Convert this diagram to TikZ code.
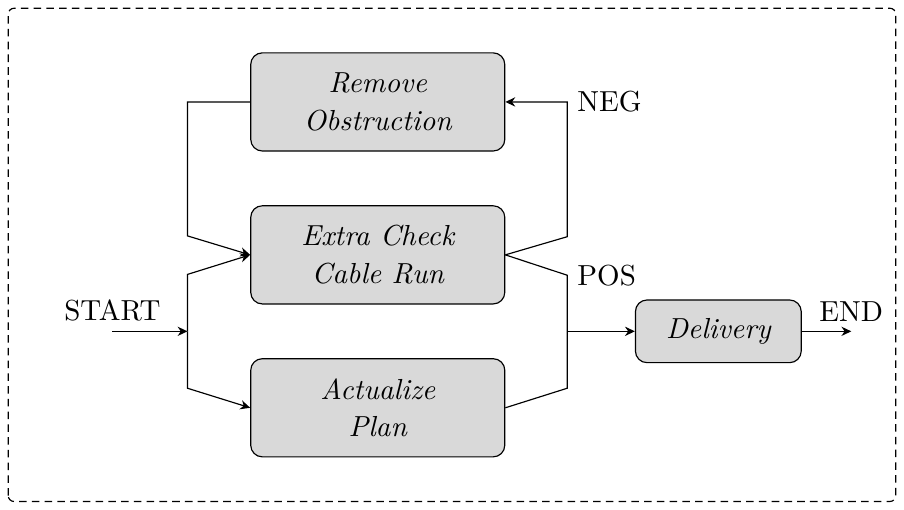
\documentclass[tikz,border=0pt]{standalone}
\usetikzlibrary{arrows.meta,calc,positioning}

\begin{document}
\begin{tikzpicture}[node distance= 0.65cm, >={Stealth[length=3.4pt,width=3.2pt]}]
      \useasboundingbox (-4.58,-3.09) rectangle (6.38,3.09);
      \draw[dash pattern=on 2.6pt off 1.8pt, rounded corners=2pt] (-4.48,-2.99) rectangle (6.28,2.99);
      \begin{scope}[every node/.style={draw,rounded corners,fill=black!15,font=\itshape,align=center,minimum width=3.08cm,minimum height=1.19cm}]
        \node (extra) {Extra Check\\[1pt]Cable Run};
        \node (remove) [above= of extra] {Remove\\[1pt]Obstruction};
        \node (plan) [below= of extra] {Actualize\\[1pt]Plan};
      \end{scope}
      % junction points
      \coordinate (jl) at ([xshift=-0.76cm]extra.west);
      \coordinate (jr) at ([xshift=0.75cm]extra.east);
      \coordinate (split) at ([xshift=-0.76cm]$(extra.west)!0.5!(plan.west)$);
      \coordinate (merge) at ([xshift=0.75cm]$(extra.east)!0.5!(plan.east)$);
      \coordinate (start) at ([xshift=-0.91cm]split);
      \node (delivery) [draw,rounded corners,fill=black!15,font=\itshape,minimum width=2.01cm,minimum height=0.76cm,right= 0.82cm of merge] {Delivery};
      \coordinate (finish) at ([xshift=0.6cm]delivery.east);
      % labels
      \node (startlabel) [above] at (start) {START};
      \node (endlabel) [above] at (finish) {END};
      \node (neglabel) [right] at (jr |- remove.east) {NEG};
      \node (poslabel) [right] at ([yshift=0.68cm]merge) {POS};
      \begin{scope}[every path/.style={draw= black}]
        \draw[->] (start) -- (split);
        \draw[->] (split) -- ++(0,0.69) -- (extra.west);
        \draw[->] (split) -- ++(0,-0.69) -- (plan.west);
        \draw[->] (remove.west) -| ([yshift=0.23cm]jl) -- (extra.west);
        \draw[->] (extra.east) -- ([yshift=0.22cm]jr) |- (remove.east);
        \draw (extra.east) -- ([yshift=0.68cm]merge) -- ([yshift=-0.69cm]merge) -- (plan.east);
        \draw[->] (merge) -- (delivery);
        \draw[->] (delivery) -- (finish);
      \end{scope}
    \end{tikzpicture}
\end{document}
